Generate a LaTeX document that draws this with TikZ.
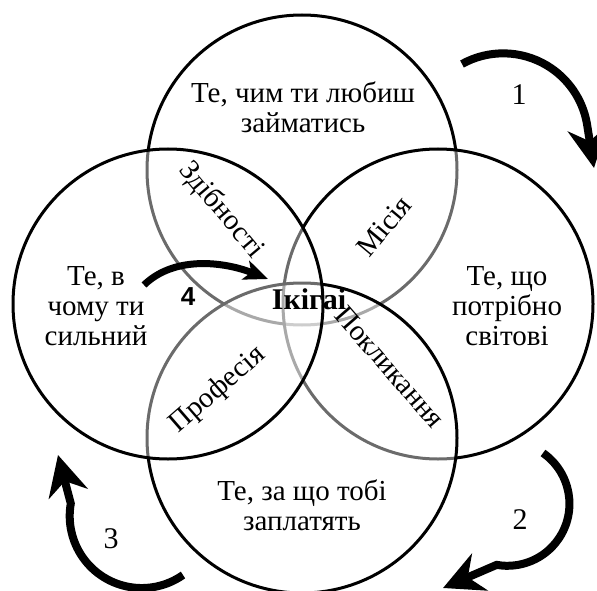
\documentclass[tikz,border=0pt]{standalone}
\usepackage{fontspec}
\setmainfont{Liberation Serif}
\newfontfamily\digitfont{Liberation Sans}
\usepackage{tikz}
\usetikzlibrary{arrows.meta}

\begin{document}
\begin{tikzpicture}[x=1pt, y=-1pt,
    ring/.style={circle, draw=black, line width=3pt, fill=white, fill opacity=0.42, draw opacity=1, minimum size=310pt, inner sep=0pt},
    area/.style={align=center, font=\fontsize{29}{30}\selectfont},
    overlap/.style={font=\fontsize{29}{30}\selectfont},
    cycle/.style={line width=8pt, -{Stealth[length=40pt, width=40pt, inset=13pt]}},
    num/.style={font=\fontsize{30}{30}\selectfont}]
    \useasboundingbox (0,0) rectangle (597,591);

    % Circles
    \node[ring] (love) at (302,170) {};
    \node[ring] (need) at (438,304) {};
    \node[ring] (paid) at (302,438) {};
    \node[ring] (skill) at (168,304) {};

    % Texts
    \node[area] (lovetext) at (303,107) {Те, чим ти любиш\\займатись};
    \node[area] (skilltext) at (96,306) {Те, в\\чому ти\\сильний};
    \node[area] (needtext) at (507,306) {Те, що\\потрібно\\світові};
    \node[area] (paidtext) at (302,505) {Те, за що тобі\\заплатять};

    \node[overlap, rotate=-50] (passion) at (221,210) {Здібності};
    \node[overlap, rotate=50] (mission) at (384,226) {Місія};
    \node[overlap, rotate=41] (profession) at (218,390) {Професія};
    \node[overlap, rotate=-49] (vocation) at (390,367) {Покликання};
    \node[font=\fontsize{30}{30}\selectfont\bfseries] (ikigai) at (309,299) {Ікігаі};

    % Arrows
    \coordinate (a1) at (462,64);
    \coordinate (a2) at (543,453);
    \coordinate (a3) at (183,575);
    \coordinate (a4) at (144,285);
    \draw[cycle] (a1) arc[start angle=-119, end angle=-10, radius=85] -- (594,168);
    \draw[cycle] (a2) arc[start angle=-55, end angle=100, radius=62] -- (443,588);
    \draw[cycle] (a3) arc[start angle=55, end angle=190, radius=72] -- (58,455);
    \draw[line width=7pt, -{Stealth[length=24pt, width=20pt, inset=6pt]}] (a4) .. controls (175,255) and (225,262) .. (268,279);

    \node[num] (one) at (519,95) {1};
    \node[num] (two) at (520,520) {2};
    \node[num] (three) at (111,539) {3};
    \node[font=\fontsize{26}{26}\selectfont\digitfont\bfseries] (four) at (188,297) {4};
\end{tikzpicture}
\end{document}
